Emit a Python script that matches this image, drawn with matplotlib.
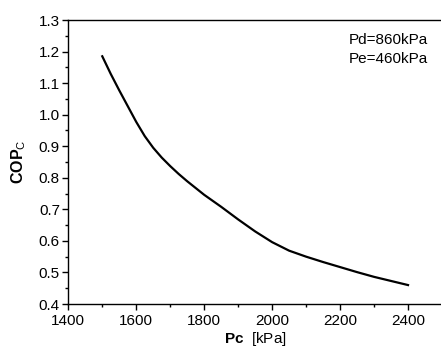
import matplotlib
matplotlib.use("Agg")
import matplotlib.pyplot as plt
from matplotlib.ticker import MultipleLocator, FormatStrFormatter

plt.rcParams['font.family'] = ['Liberation Sans', 'DejaVu Sans']
plt.rcParams['mathtext.fontset'] = 'custom'
plt.rcParams['mathtext.rm'] = 'Liberation Sans'
plt.rcParams['mathtext.bf'] = 'Liberation Sans:bold'

pc = [1500, 1525, 1550, 1575, 1600, 1625, 1650, 1675, 1700, 1725, 1750, 1800,
      1850, 1900, 1950, 2000, 2050, 2100, 2150, 2200, 2250, 2300, 2350, 2400]
cop = [1.185, 1.129, 1.077, 1.027, 0.977, 0.932, 0.895, 0.864, 0.837, 0.812,
       0.789, 0.746, 0.708, 0.668, 0.630, 0.596, 0.569, 0.550, 0.533, 0.517,
       0.501, 0.486, 0.473, 0.460]

fig = plt.figure(figsize=(4.41, 3.48), dpi=100)
left, right, bottom, top = 68.3 / 441, 442 / 441, 1 - 304 / 348, 1 - 20 / 348
ax = fig.add_axes([left, bottom, right - left, top - bottom])
ax.plot(pc, cop, color='black', lw=1.6)

ax.set_xlim(1400, 2500)
ax.set_ylim(0.4, 1.3)
ax.xaxis.set_major_locator(MultipleLocator(200))
ax.xaxis.set_minor_locator(MultipleLocator(100))
ax.yaxis.set_major_locator(MultipleLocator(0.1))
ax.yaxis.set_minor_locator(MultipleLocator(0.05))
ax.yaxis.set_major_formatter(FormatStrFormatter('%.1f'))
ax.tick_params(which='major', direction='out', length=4, width=1, labelsize=11)
ax.tick_params(axis='x', which='major', pad=3)
ax.tick_params(axis='y', which='major', pad=2)
ax.tick_params(which='minor', direction='out', length=2.2, width=1)
for s in ax.spines.values():
    s.set_linewidth(1)

ax.set_xlabel(r'$\mathbf{Pc}$  [kPa]', fontsize=11, labelpad=2)
ax.set_ylabel(r'$\mathbf{COP}_\mathrm{C}$', fontsize=11.5, labelpad=8)

fig.text(349 / 441, 1 - 40 / 348, 'Pd=860kPa', fontsize=11, ha='left', va='center')
fig.text(349 / 441, 1 - 59 / 348, 'Pe=460kPa', fontsize=11, ha='left', va='center')

fig.savefig('out.png', dpi=100)
